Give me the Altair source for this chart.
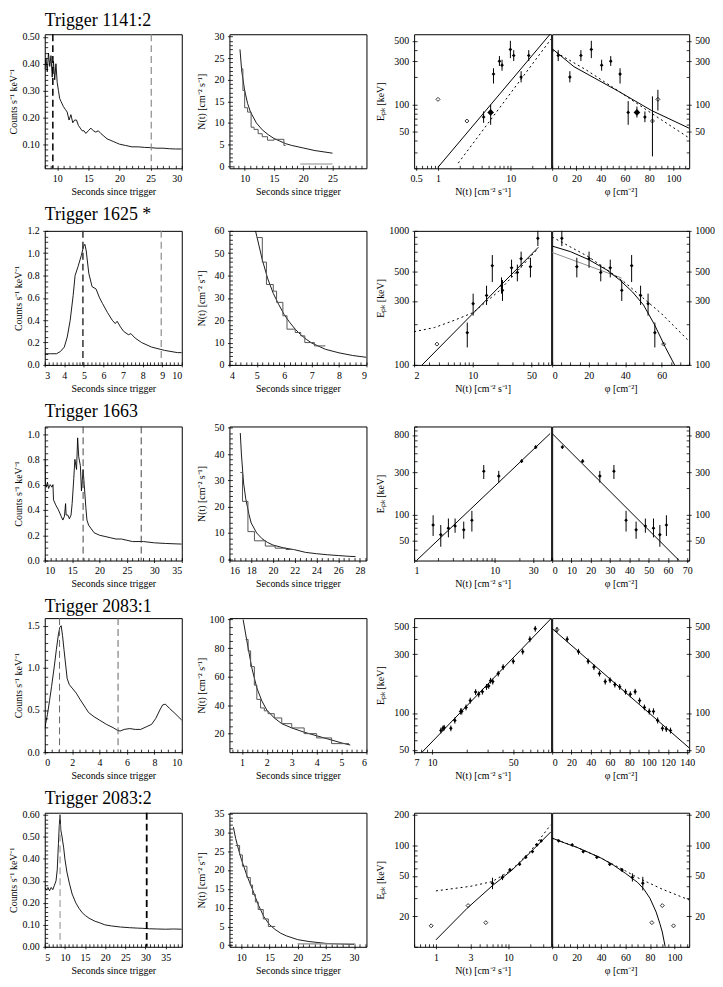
import json, math
import altair as alt
import pandas as pd

FONT = "Liberation Serif"
W, H = 138, 135
GRAY = "#8c8c8c"

# ================= Row 1 : Trigger 1141:2 =================
R1_TITLE = "Trigger 1141:2"
R1_LC_T = [8.0, 8.2, 8.4, 8.6, 8.8, 9.0, 9.2, 9.4, 9.6, 9.8, 10.0, 10.2, 10.4, 10.6, 10.8, 11.0, 11.3, 11.6, 11.9, 12.2,
           12.5, 12.8, 13.1, 13.4, 13.7, 14.0, 14.3, 14.6, 15.0, 15.4, 15.8, 16.2, 16.6, 17.0, 17.5, 18.0, 18.5, 19.0,
           19.5, 20.0, 21.0, 22.0, 23.0, 24.0, 25.0, 26.0, 27.0, 28.0, 29.0, 30.0]
R1_LC_C = [0.38, 0.42, 0.37, 0.44, 0.39, 0.43, 0.35, 0.41, 0.34, 0.40, 0.33, 0.30, 0.27, 0.26, 0.25, 0.24, 0.23, 0.22,
           0.19, 0.21, 0.18, 0.19, 0.19, 0.17, 0.16, 0.15, 0.15, 0.14, 0.15, 0.16, 0.15, 0.145, 0.15, 0.14, 0.13, 0.12,
           0.115, 0.11, 0.105, 0.10, 0.095, 0.09, 0.09, 0.088, 0.087, 0.085, 0.085, 0.083, 0.082, 0.082]
R1_MK_T = [9.3, 25.1]
R1_MK_COL = ["black", GRAY]
R1_MK_W = [1.5, 1.2]
R1_NT_FIT_T = [9.2, 9.5, 10, 10.5, 11, 12, 13, 14, 15, 16, 17, 18, 20, 22, 25]
R1_NT_FIT_N = [27, 22, 17.5, 14.5, 12.5, 10, 8.4, 7.3, 6.4, 5.8, 5.2, 4.8, 4.2, 3.6, 3.0]
R1_NT_EDGE = [9.4, 9.7, 10.0, 10.5, 11.1, 11.6, 12.3, 13.0, 13.9, 15.0, 16.7, 17.0]
R1_NT_VAL = [22.5, 17.5, 13.5, 12.5, 9.0, 8.5, 7.5, 6.8, 6.0, 6.2, 4.8]
R1_NT_BASE = [19.5, 25.0, 0.5]
R1_EN_N = [1.0, 2.5, 4.24, 5.3, 5.8, 7.0, 7.6, 9.9, 11.0, 13.9, 17.7]
R1_EN_E = [114, 66, 73, 82, 216, 299, 270, 402, 345, 200, 345]
R1_EN_LO = [114, 66, 63, 60, 170, 265, 235, 323, 300, 175, 300]
R1_EN_HI = [114, 66, 84, 100, 250, 340, 310, 500, 395, 232, 395]
R1_EN_KIND = ["o", "o", "f", "b", "f", "f", "f", "f", "f", "f", "f"]
R1_EP_PHI = [5, 14.6, 23.7, 32.3, 40.8, 48.3, 56, 62.7, 69.9, 76.5, 82.7, 87.2]
R1_EP_E = [345, 200, 345, 402, 270, 299, 216, 82, 82, 73, 66, 114]
R1_EP_LO = [300, 175, 300, 323, 235, 265, 170, 60, 72, 64, 27, 86]
R1_EP_HI = [395, 232, 395, 500, 310, 340, 250, 109, 95, 84, 123, 145]
R1_EP_KIND = ["f", "f", "f", "f", "f", "f", "f", "f", "b", "f", "o", "o"]
R1_FN_N = [1.0, 36]
R1_FN_E = [20.5, 610]
R1_DN_N = [1.9, 36]
R1_DN_E = [22.8, 524]
R1_FP_PHI = [0, 18, 35, 55, 82, 113]
R1_FP_E = [410, 260, 195, 139, 86, 55]
R1_DP_PHI = [0, 28, 55, 82, 113]
R1_DP_E = [395, 240, 140, 80, 43]

# ================= Row 2 : Trigger 1625 * =================
R2_TITLE = "Trigger 1625 *"
R2_LC_T = [3.0, 3.3, 3.6, 3.8, 4.0, 4.15, 4.3, 4.45, 4.55, 4.7, 4.87, 4.98, 5.05, 5.12, 5.25, 5.42, 5.62, 5.8, 5.95,
           6.2, 6.45, 6.6, 6.7, 6.87, 7.03, 7.28, 7.4, 7.62, 7.95, 8.45, 9.12, 9.78, 10.0]
R2_LC_C = [0.10, 0.10, 0.10, 0.12, 0.16, 0.25, 0.40, 0.62, 0.80, 0.88, 0.98, 1.06, 1.08, 1.02, 0.82, 0.70, 0.68, 0.60,
           0.55, 0.47, 0.40, 0.37, 0.39, 0.34, 0.30, 0.27, 0.28, 0.24, 0.20, 0.16, 0.13, 0.11, 0.11]
R2_MK_T = [4.95, 8.95]
R2_MK_COL = ["#333333", GRAY]
R2_MK_W = [1.5, 1.2]
R2_NT_FIT_T = [4.95, 5.0, 5.2, 5.4, 5.6, 5.8, 6.0, 6.2, 6.4, 6.6, 6.8, 7.0, 7.5, 8.0, 8.5, 9.0]
R2_NT_FIT_N = [60, 57.5, 47, 38.5, 32, 27, 22.5, 19, 16, 13.5, 11.5, 9.8, 7, 5.4, 4.2, 3.4]
R2_NT_EDGE = [5.0, 5.2, 5.35, 5.6, 5.72, 5.95, 6.1, 6.4, 6.6, 6.75, 7.1, 7.5]
R2_NT_VAL = [57, 46, 36, 33, 28, 22, 16, 14.5, 13, 10, 8.5]
R2_NT_BASE = []
R2_EN_N = [3.74, 8.6, 10.1, 14.6, 17.1, 22.6, 22.0, 29, 34, 37.7, 48.7, 59.7]
R2_EN_E = [143, 174, 286, 330, 550, 360, 390, 530, 490, 620, 540, 880]
R2_EN_LO = [143, 135, 233, 280, 415, 300, 340, 450, 420, 530, 450, 770]
R2_EN_HI = [143, 207, 340, 390, 660, 430, 450, 610, 560, 700, 630, 1000]
R2_EN_KIND = ["o", "f", "f", "f", "f", "f", "f", "f", "f", "f", "f", "f"]
R2_EP_PHI = [5.3, 13.5, 20.2, 26.6, 31.8, 38.1, 43.5, 48.4, 52.5, 56.2, 61]
R2_EP_E = [880, 540, 620, 490, 530, 360, 550, 330, 286, 174, 143]
R2_EP_LO = [770, 450, 530, 420, 450, 300, 415, 280, 233, 135, 143]
R2_EP_HI = [1000, 630, 700, 560, 610, 430, 660, 390, 340, 207, 143]
R2_EP_KIND = ["f", "f", "f", "f", "f", "f", "f", "f", "f", "f", "o"]
R2_FN_N = [2.49, 60.6]
R2_FN_E = [100, 755]
R2_DN_N = [2, 3.5, 6, 10, 20, 40, 60]
R2_DN_E = [177, 190, 215, 245, 350, 560, 740]
R2_FP_PHI = [0, 10, 20, 30, 37, 44, 50, 56, 62, 67]
R2_FP_E = [770, 700, 610, 510, 430, 350, 280, 200, 135, 100]
R2_GP_PHI = [0, 38]
R2_GP_E = [690, 445]
R2_DP_PHI = [0, 20, 40, 60, 75]
R2_DP_E = [900, 640, 410, 240, 150]

# ================= Row 3 : Trigger 1663 =================
R3_TITLE = "Trigger 1663"
R3_LC_T = [10.0, 10.1, 10.3, 10.5, 10.7, 11.0, 11.3, 11.5, 11.6, 12.0, 12.5, 13.0, 13.3, 13.6, 13.8, 13.9, 14.2, 14.5,
           14.8, 15.0, 15.3, 15.5, 15.8, 16.0, 16.2, 16.5, 16.7, 17.0, 17.2, 17.5, 17.7, 18.0, 18.5, 19.0, 20.0, 21.0,
           22.0, 23.0, 24.0, 25.0, 26.0, 28.0, 30.0, 32.0, 35.0]
R3_LC_C = [0.80, 0.62, 0.58, 0.62, 0.57, 0.60, 0.58, 0.60, 0.48, 0.44, 0.40, 0.35, 0.32, 0.35, 0.45, 0.36, 0.36, 0.33,
           0.36, 0.45, 0.65, 0.80, 0.72, 0.97, 0.82, 0.75, 0.55, 0.72, 0.60, 0.42, 0.32, 0.28, 0.25, 0.22, 0.20, 0.19,
           0.18, 0.17, 0.17, 0.16, 0.15, 0.15, 0.14, 0.135, 0.13]
R3_MK_T = [17.0, 27.6]
R3_MK_COL = ["#444444", "#444444"]
R3_MK_W = [1.0, 1.0]
R3_NT_FIT_T = [17.0, 17.1, 17.3, 17.5, 17.8, 18, 18.5, 19, 19.5, 20, 21, 22, 23, 24, 25, 26, 27, 27.6]
R3_NT_FIT_N = [48, 40, 29, 23, 17, 13.8, 10, 7.8, 6.4, 5.4, 4.3, 3.6, 2.6, 2.1, 1.7, 1.4, 1.1, 1.0]
R3_NT_EDGE = [17.0, 17.2, 17.7, 18.3, 19.3, 20.2, 21.2, 22.0]
R3_NT_VAL = [33, 22, 10.5, 7, 5, 4.2, 3.7]
R3_NT_BASE = []
R3_EN_N = [1.72, 2.14, 2.66, 3.22, 4.12, 5.2, 7.3, 11.2, 21.5, 32.2]
R3_EN_E = [76, 59, 70, 74, 67, 86, 310, 273, 403, 583]
R3_EN_LO = [57, 43, 55, 62, 53, 64, 253, 230, 385, 555]
R3_EN_HI = [98, 76, 90, 90, 83, 110, 365, 313, 425, 610]
R3_EN_KIND = ["f"] * 10
R3_EP_PHI = [5.3, 15.8, 24.7, 32, 38.3, 43.5, 48.3, 52.5, 55.8, 59.2]
R3_EP_E = [583, 403, 273, 310, 86, 67, 74, 70, 59, 76]
R3_EP_LO = [555, 385, 230, 253, 64, 53, 62, 55, 43, 57]
R3_EP_HI = [610, 425, 313, 365, 110, 83, 90, 90, 76, 98]
R3_EP_KIND = ["f"] * 10
R3_FN_N = [1.07, 48.6]
R3_FN_E = [30, 832]
R3_FP_PHI = [0, 65.8]
R3_FP_E = [832, 30]

# ================= Row 4 : Trigger 2083:1 =================
R4_TITLE = "Trigger 2083:1"
R4_LC_T = [0, 0.2, 0.35, 0.5, 0.7, 0.85, 1.0, 1.1, 1.2, 1.3, 1.41, 1.55, 1.64, 1.8, 2.0, 2.3, 2.6, 3.0, 3.2, 3.6, 4.0,
           4.5, 5.0, 5.3, 5.5, 5.8, 6.2, 6.6, 7.0, 7.4, 7.8, 8.1, 8.4, 8.6, 8.8, 9.1, 9.5, 10.0]
R4_LC_C = [0.28, 0.45, 0.61, 0.78, 1.02, 1.22, 1.40, 1.48, 1.50, 1.38, 1.21, 1.00, 0.87, 0.80, 0.76, 0.70, 0.62, 0.52,
           0.47, 0.42, 0.38, 0.33, 0.29, 0.26, 0.25, 0.27, 0.28, 0.27, 0.27, 0.30, 0.33, 0.40, 0.50, 0.56, 0.57, 0.52,
           0.46, 0.38]
R4_MK_T = [1.08, 5.35]
R4_MK_COL = ["#666666", "#666666"]
R4_MK_W = [1.0, 1.0]
R4_NT_FIT_T = [1.05, 1.2, 1.4, 1.6, 1.8, 2.0, 2.3, 2.6, 3.0, 3.5, 4.0, 4.5, 5.0, 5.35]
R4_NT_FIT_N = [100, 85, 66, 52, 43, 36.5, 31, 27, 24, 21, 18.5, 16, 13.5, 12]
R4_NT_EDGE = [1.15, 1.25, 1.35, 1.5, 1.6, 1.75, 1.9, 2.05, 2.3, 2.6, 3.0, 3.5, 4.0, 4.6, 5.3]
R4_NT_VAL = [86, 78, 67, 54, 44, 38, 36, 34, 31, 27, 24, 20, 17, 13]
R4_NT_BASE = []
R4_EN_N = [11.9, 12.4, 12.7, 14.5, 15.7, 17.6, 18.0, 19.6, 21.3, 23.7, 25.2, 27.1, 29.4, 30.7, 31.9, 33.3, 37.1, 40.9,
           50, 60.3, 69.5, 77.3]
R4_EN_E = [72, 75, 76, 75, 87, 103, 103, 111, 126, 148, 142, 149, 163, 166, 183, 180, 209, 236, 263, 315, 398, 484]
R4_EN_LO = [68, 71, 72, 71, 82, 97, 97, 105, 119, 140, 134, 141, 154, 157, 173, 170, 198, 223, 249, 298, 376, 458]
R4_EN_HI = [76, 79, 80, 79, 92, 109, 109, 117, 133, 156, 150, 157, 172, 175, 193, 190, 220, 249, 277, 332, 420, 510]
R4_EN_KIND = ["f"] * 22
R4_EP_PHI = [5, 15.6, 27.3, 37.3, 43.3, 49, 55, 60, 65, 70, 76, 81, 86, 90.6, 95.6, 100.6, 105, 109.3, 114.3, 118.3,
             122.6]
R4_EP_E = [475, 398, 315, 263, 236, 209, 180, 185, 170, 163, 149, 142, 149, 126, 111, 103, 103, 87, 75, 74, 72]
R4_EP_LO = [450, 376, 298, 249, 223, 198, 170, 175, 161, 154, 141, 134, 141, 119, 105, 97, 97, 82, 71, 70, 68]
R4_EP_HI = [500, 420, 332, 277, 249, 220, 190, 195, 179, 172, 157, 150, 157, 133, 117, 109, 109, 92, 79, 78, 76]
R4_EP_KIND = ["o"] + ["f"] * 20
R4_FN_N = [8.2, 106]
R4_FN_E = [48, 586]
R4_FP_PHI = [0, 142]
R4_FP_E = [485, 52]

# ================= Row 5 : Trigger 2083:2 =================
R5_TITLE = "Trigger 2083:2"
R5_LC_T = [5, 5.4, 5.8, 6.2, 6.6, 7.0, 7.4, 7.8, 8.1, 8.4, 8.6, 8.8, 9.0, 9.3, 9.7, 10.0, 10.5, 11.1, 11.8, 12.7,
           13.5, 14.3, 15.1, 16.0, 17.5, 18.5, 19.9, 21.5, 23.8, 26, 28, 29.3, 31, 33, 35, 37, 39]
R5_LC_C = [0.27, 0.26, 0.27, 0.255, 0.27, 0.26, 0.28, 0.30, 0.35, 0.47, 0.55, 0.60, 0.53, 0.50, 0.45, 0.40, 0.34,
           0.29, 0.24, 0.20, 0.175, 0.155, 0.142, 0.13, 0.116, 0.11, 0.10, 0.095, 0.09, 0.087, 0.085, 0.084, 0.082,
           0.081, 0.08, 0.081, 0.08]
R5_MK_T = [8.8, 30.3]
R5_MK_COL = [GRAY, "black"]
R5_MK_W = [1.0, 1.8]
R5_NT_FIT_T = [8.6, 9, 9.5, 10, 11, 12, 13, 14, 15, 16, 17, 18, 20, 22, 25, 30]
R5_NT_FIT_N = [31.4, 28.4, 25.5, 22.9, 18.5, 14.8, 10.8, 7.6, 5.5, 4.2, 3.2, 2.5, 1.5, 1.0, 0.5, 0.2]
R5_NT_EDGE = [9.0, 9.7, 10.2, 11.0, 11.6, 12.0, 12.5, 13.0, 13.9, 14.8, 16.0]
R5_NT_VAL = [26.5, 24, 21, 18, 16, 13.5, 11.5, 9.5, 7, 5]
R5_NT_BASE = [20.0, 30.2, 0.4]
R5_EN_N = [0.86, 2.78, 4.88, 6.04, 8.3, 10.5, 14.3, 17.4, 21.5, 24.8, 28.4]
R5_EN_E = [16.1, 25.5, 17.3, 42.4, 48.5, 57.3, 65.3, 76.5, 87, 101, 111]
R5_EN_LO = [16.1, 25.5, 17.3, 37, 45.5, 55, 63, 74, 84, 98, 108]
R5_EN_HI = [16.1, 25.5, 17.3, 48, 51.5, 59.5, 67.5, 79, 90, 104, 114]
R5_EN_KIND = ["o", "o", "o", "f", "f", "f", "f", "f", "f", "f", "f"]
R5_EP_PHI = [5.3, 16.4, 25.4, 36.5, 47.1, 57.1, 65.6, 74.1, 81.5, 90, 99.2]
R5_EP_E = [111, 101, 87, 76.5, 65.3, 57.3, 48.5, 42.4, 17.3, 25.5, 16.1]
R5_EP_LO = [108, 98, 84, 74, 63, 55, 44, 36, 17.3, 25.5, 16.1]
R5_EP_HI = [114, 104, 90, 79, 67.5, 59.5, 53, 49, 17.3, 25.5, 16.1]
R5_EP_KIND = ["f"] * 8 + ["o", "o", "o"]
R5_FN_N = [1.0, 2.7, 6, 11.2, 20, 38.6]
R5_FN_E = [11.7, 24, 40, 57, 85, 136]
R5_DN_N = [1, 3, 6, 11, 20, 38.6]
R5_DN_E = [35.6, 39.5, 44, 57, 87, 160]
R5_FP_PHI = [0, 10, 20, 30, 40, 50, 60, 70, 75, 80, 85, 88, 90, 92.4]
R5_FP_E = [118, 106, 96, 85, 75, 64, 53, 43, 37, 30, 22, 17, 14, 10]
R5_DP_PHI = [0, 20, 40, 60, 70, 90, 112]
R5_DP_E = [118, 96, 75, 56, 48, 37, 29]

# ================= axis ranges and tick labels =================
AX = {
    1: dict(lc_x=[8, 30], lc_xl=[10, 15, 20, 25, 30], lc_xs=1, lc_y=[0.01, 0.51], lc_yl=[0.1, 0.2, 0.3, 0.4, 0.5],
            lc_ys=0.02, lc_fmt=".2f",
            nt_x=[7.4, 30.8], nt_xl=[10, 15, 20, 25], nt_xs=1, nt_y=[-0.5, 30.5], nt_yl=[0, 5, 10, 15, 20, 25, 30],
            nt_ys=1,
            en_x=[0.47, 36], en_xl=[0.5, 1, 10], e_y=[20, 590], e_yl=[50, 100, 300, 500],
            ep_x=[0, 113], ep_xl=[0, 20, 40, 60, 80, 100], ep_xs=5),
    2: dict(lc_x=[3, 10], lc_xl=[3, 4, 5, 6, 7, 8, 9, 10], lc_xs=0.2, lc_y=[0, 1.2],
            lc_yl=[0, 0.2, 0.4, 0.6, 0.8, 1.0, 1.2], lc_ys=0.05, lc_fmt=".1f",
            nt_x=[4, 9], nt_xl=[4, 5, 6, 7, 8, 9], nt_xs=0.2, nt_y=[0, 60], nt_yl=[0, 10, 20, 30, 40, 50, 60],
            nt_ys=2,
            en_x=[2, 86], en_xl=[2, 10, 50], e_y=[100, 1000], e_yl=[100, 300, 500, 1000],
            ep_x=[0, 75], ep_xl=[0, 20, 40, 60], ep_xs=5),
    3: dict(lc_x=[10, 35], lc_xl=[10, 15, 20, 25, 30, 35], lc_xs=1, lc_y=[0, 1.06],
            lc_yl=[0, 0.2, 0.4, 0.6, 0.8, 1.0], lc_ys=0.05, lc_fmt=".1f",
            nt_x=[16, 28.6], nt_xl=[16, 18, 20, 22, 24, 26, 28], nt_xs=0.5, nt_y=[-0.5, 50.5],
            nt_yl=[0, 10, 20, 30, 40, 50], nt_ys=2,
            en_x=[1, 50], en_xl=[1, 10, 30], e_y=[30, 1000], e_yl=[50, 100, 300, 800],
            ep_x=[0, 71], ep_xl=[0, 10, 20, 30, 40, 50, 60, 70], ep_xs=5),
    4: dict(lc_x=[0, 10], lc_xl=[0, 2, 4, 6, 8, 10], lc_xs=0.5, lc_y=[0, 1.59], lc_yl=[0, 0.5, 1.0, 1.5],
            lc_ys=0.1, lc_fmt=".1f",
            nt_x=[0.5, 6], nt_xl=[1, 2, 3, 4, 5, 6], nt_xs=0.2, nt_y=[7, 101], nt_yl=[20, 40, 60, 80, 100], nt_ys=5,
            en_x=[7, 106], en_xl=[7, 10, 50], e_y=[48, 590], e_yl=[50, 100, 300, 500],
            ep_x=[0, 142], ep_xl=[0, 20, 40, 60, 80, 100, 120, 140], ep_xs=10),
    5: dict(lc_x=[5, 39], lc_xl=[5, 10, 15, 20, 25, 30, 35], lc_xs=1, lc_y=[0, 0.61],
            lc_yl=[0, 0.1, 0.2, 0.3, 0.4, 0.5, 0.6], lc_ys=0.02, lc_fmt=".2f",
            nt_x=[7.9, 32.2], nt_xl=[10, 15, 20, 25, 30], nt_xs=1, nt_y=[-0.4, 35.2],
            nt_yl=[0, 5, 10, 15, 20, 25, 30, 35], nt_ys=1,
            en_x=[0.5, 39], en_xl=[1, 3, 10], e_y=[10, 210], e_yl=[20, 50, 100, 200],
            ep_x=[0, 112], ep_xl=[0, 20, 40, 60, 80, 100], ep_xs=5),
}

T_SEC = "Seconds since trigger"
T_CNT = "Counts s\u207b\u00b9 keV\u207b\u00b9"
T_NT = "N(t) [cm\u207b\u00b2 s\u207b\u00b9]"
T_EPK = "E\u209a\u2096 [keV]"
T_PHI = "\u03c6 [cm\u207b\u00b2]"

TICK_IN = 3   # ticks reach this far inside the frame
COL_SP = -3   # column spacing (pulls the E_pk pair together)


def lin_ticks(dom, step):
    k0 = math.ceil(dom[0] / step - 1e-9)
    k1 = math.floor(dom[1] / step + 1e-9)
    return [round(k * step, 6) for k in range(k0, k1 + 1)]


def log_ticks(dom):
    out = []
    for e in range(-2, 5):
        for m in range(1, 10):
            v = round(m * 10 ** e, 6)
            if dom[0] - 1e-9 <= v <= dom[1] + 1e-9:
                out.append(v)
    return out


def mk_axis(title, ticks, labels, fmt, **kw):
    lst = json.dumps([float(v) for v in labels])
    test = f"indexof({lst}, datum.value) >= 0"
    d = dict(title=title, values=ticks, labelExpr=f"{test} ? datum.label : ''", format=fmt,
             labelOverlap=False, domain=False, offset=-TICK_IN, labelPadding=3.5,
             tickSize={"condition": {"test": test, "value": 5}, "value": 3})
    d.update(kw)
    return alt.Axis(**d)


def lc_panel(title, t, c, mk_t, mk_col, mk_w, a):
    xs = alt.X("t:Q", scale=alt.Scale(domain=a["lc_x"], nice=False, zero=False),
               axis=mk_axis(T_SEC, lin_ticks(a["lc_x"], a["lc_xs"]), a["lc_xl"], "~f"))
    ys = alt.Y("c:Q", scale=alt.Scale(domain=a["lc_y"], nice=False, zero=False),
               axis=mk_axis(T_CNT, lin_ticks(a["lc_y"], a["lc_ys"]), a["lc_yl"], a["lc_fmt"]))
    line = alt.Chart(pd.DataFrame({"t": t, "c": c})).mark_line(
        color="black", strokeWidth=0.9, clip=True).encode(x=xs, y=ys)
    rules = alt.Chart(pd.DataFrame({"t": mk_t, "col": mk_col, "w": mk_w})).mark_rule(
        strokeDash=[7, 4]).encode(x=xs, color=alt.Color("col:N", scale=None),
                                  strokeWidth=alt.StrokeWidth("w:Q", scale=None))
    return alt.layer(line, rules).properties(
        width=W, height=H,
        title=alt.TitleParams(title, anchor="start", frame="group", font=FONT, fontSize=18,
                              fontWeight="normal", color="black", offset=2))


def nt_panel(ft, fn, edges, vals, base, a):
    xs = alt.X("t:Q", scale=alt.Scale(domain=a["nt_x"], nice=False, zero=False),
               axis=mk_axis(T_SEC, lin_ticks(a["nt_x"], a["nt_xs"]), a["nt_xl"], "~f"))
    ys = alt.Y("n:Q", scale=alt.Scale(domain=a["nt_y"], nice=False, zero=False),
               axis=mk_axis(T_NT, lin_ticks(a["nt_y"], a["nt_ys"]), a["nt_yl"], "~f",
                            minExtent=46 + TICK_IN - COL_SP, titleX=-23 - TICK_IN))
    fit = alt.Chart(pd.DataFrame({"t": ft, "n": fn})).mark_line(
        color="black", strokeWidth=0.9, clip=True).encode(x=xs, y=ys)
    step = alt.Chart(pd.DataFrame({"t": edges, "n": vals + [vals[-1]]})).mark_line(
        color="#555555", strokeWidth=1.0, interpolate="step-after", clip=True).encode(x=xs, y=ys)
    layers = [fit, step]
    if base:
        layers.append(alt.Chart(pd.DataFrame({"t": [base[0]], "t2": [base[1]], "n": [base[2]]})).mark_rule(
            color=GRAY, strokeWidth=1.2).encode(x=xs, x2="t2:Q", y=ys))
    return alt.layer(*layers).properties(width=W, height=H)


def point_layers(xs, ys, ylo, x, e, lo, hi, kind):
    df = pd.DataFrame({"x": x, "e": e, "lo": lo, "hi": hi, "kind": kind})
    base = alt.Chart(df)
    err = base.mark_rule(color="black", strokeWidth=1.0).encode(x=xs, y=ylo, y2="hi:Q")
    filled = base.transform_filter("datum.kind != 'o'").mark_point(
        shape="diamond", filled=True, color="black", opacity=1).encode(
        x=xs, y=ys, size=alt.Size("kind:N", scale=alt.Scale(domain=["f", "b"], range=[14, 45]), legend=None))
    opn = base.transform_filter("datum.kind == 'o'").mark_point(
        shape="diamond", filled=False, color="black", size=16, strokeWidth=0.8, opacity=1).encode(x=xs, y=ys)
    return [err, filled, opn]


def line_layer(xs, ys, x, e, style):
    df = pd.DataFrame({"x": x, "e": e})
    if style == "dot":
        m = alt.Chart(df).mark_line(color="black", strokeWidth=1.0, strokeDash=[2, 3], clip=True)
    elif style == "gray":
        m = alt.Chart(df).mark_line(color=GRAY, strokeWidth=1.0, clip=True)
    else:
        m = alt.Chart(df).mark_line(color="black", strokeWidth=1.0, clip=True)
    return m.encode(x=xs, y=ys)


def en_panel(x, e, lo, hi, kind, lines, a):
    xs = alt.X("x:Q", scale=alt.Scale(type="log", domain=a["en_x"], nice=False),
               axis=mk_axis(T_NT, log_ticks(a["en_x"]), a["en_xl"], "~f"))
    yscale = alt.Scale(type="log", domain=a["e_y"], nice=False)
    yax = mk_axis(T_EPK, log_ticks(a["e_y"]), a["e_yl"], "~f", minExtent=46 + TICK_IN - COL_SP,
                  titleX=-29 - TICK_IN)
    ys = alt.Y("e:Q", scale=yscale, axis=yax)
    ylo = alt.Y("lo:Q", scale=yscale, axis=yax)
    layers = [line_layer(xs, ys, lx, le, st) for lx, le, st in lines]
    layers += point_layers(xs, ys, ylo, x, e, lo, hi, kind)
    return alt.layer(*layers).properties(width=W, height=H)


def ep_panel(x, e, lo, hi, kind, lines, a):
    xs = alt.X("x:Q", scale=alt.Scale(domain=a["ep_x"], nice=False, zero=False),
               axis=mk_axis(T_PHI, lin_ticks(a["ep_x"], a["ep_xs"]), a["ep_xl"], "~f", labelFlush=True))
    yscale = alt.Scale(type="log", domain=a["e_y"], nice=False)
    yax = mk_axis(None, log_ticks(a["e_y"]), a["e_yl"], "~f", orient="right")
    ys = alt.Y("e:Q", scale=yscale, axis=yax)
    ylo = alt.Y("lo:Q", scale=yscale, axis=yax)
    layers = [line_layer(xs, ys, lx, le, st) for lx, le, st in lines]
    layers += point_layers(xs, ys, ylo, x, e, lo, hi, kind)
    return alt.layer(*layers).properties(width=W, height=H)


ROWS = [
    dict(title=R1_TITLE, lc=(R1_LC_T, R1_LC_C), mk=(R1_MK_T, R1_MK_COL, R1_MK_W),
         nt=(R1_NT_FIT_T, R1_NT_FIT_N, R1_NT_EDGE, R1_NT_VAL, R1_NT_BASE),
         en=(R1_EN_N, R1_EN_E, R1_EN_LO, R1_EN_HI, R1_EN_KIND),
         en_lines=[(R1_FN_N, R1_FN_E, "solid"), (R1_DN_N, R1_DN_E, "dot")],
         ep=(R1_EP_PHI, R1_EP_E, R1_EP_LO, R1_EP_HI, R1_EP_KIND),
         ep_lines=[(R1_FP_PHI, R1_FP_E, "solid"), (R1_DP_PHI, R1_DP_E, "dot")]),
    dict(title=R2_TITLE, lc=(R2_LC_T, R2_LC_C), mk=(R2_MK_T, R2_MK_COL, R2_MK_W),
         nt=(R2_NT_FIT_T, R2_NT_FIT_N, R2_NT_EDGE, R2_NT_VAL, R2_NT_BASE),
         en=(R2_EN_N, R2_EN_E, R2_EN_LO, R2_EN_HI, R2_EN_KIND),
         en_lines=[(R2_FN_N, R2_FN_E, "solid"), (R2_DN_N, R2_DN_E, "dot")],
         ep=(R2_EP_PHI, R2_EP_E, R2_EP_LO, R2_EP_HI, R2_EP_KIND),
         ep_lines=[(R2_GP_PHI, R2_GP_E, "gray"), (R2_FP_PHI, R2_FP_E, "solid"), (R2_DP_PHI, R2_DP_E, "dot")]),
    dict(title=R3_TITLE, lc=(R3_LC_T, R3_LC_C), mk=(R3_MK_T, R3_MK_COL, R3_MK_W),
         nt=(R3_NT_FIT_T, R3_NT_FIT_N, R3_NT_EDGE, R3_NT_VAL, R3_NT_BASE),
         en=(R3_EN_N, R3_EN_E, R3_EN_LO, R3_EN_HI, R3_EN_KIND),
         en_lines=[(R3_FN_N, R3_FN_E, "solid")],
         ep=(R3_EP_PHI, R3_EP_E, R3_EP_LO, R3_EP_HI, R3_EP_KIND),
         ep_lines=[(R3_FP_PHI, R3_FP_E, "solid")]),
    dict(title=R4_TITLE, lc=(R4_LC_T, R4_LC_C), mk=(R4_MK_T, R4_MK_COL, R4_MK_W),
         nt=(R4_NT_FIT_T, R4_NT_FIT_N, R4_NT_EDGE, R4_NT_VAL, R4_NT_BASE),
         en=(R4_EN_N, R4_EN_E, R4_EN_LO, R4_EN_HI, R4_EN_KIND),
         en_lines=[(R4_FN_N, R4_FN_E, "solid")],
         ep=(R4_EP_PHI, R4_EP_E, R4_EP_LO, R4_EP_HI, R4_EP_KIND),
         ep_lines=[(R4_FP_PHI, R4_FP_E, "solid")]),
    dict(title=R5_TITLE, lc=(R5_LC_T, R5_LC_C), mk=(R5_MK_T, R5_MK_COL, R5_MK_W),
         nt=(R5_NT_FIT_T, R5_NT_FIT_N, R5_NT_EDGE, R5_NT_VAL, R5_NT_BASE),
         en=(R5_EN_N, R5_EN_E, R5_EN_LO, R5_EN_HI, R5_EN_KIND),
         en_lines=[(R5_FN_N, R5_FN_E, "solid"), (R5_DN_N, R5_DN_E, "dot")],
         ep=(R5_EP_PHI, R5_EP_E, R5_EP_LO, R5_EP_HI, R5_EP_KIND),
         ep_lines=[(R5_FP_PHI, R5_FP_E, "solid"), (R5_DP_PHI, R5_DP_E, "dot")]),
]

cells = []
for i, r in enumerate(ROWS, start=1):
    a = AX[i]
    cells.append(lc_panel(r["title"], r["lc"][0], r["lc"][1], *r["mk"], a))
    cells.append(nt_panel(*r["nt"], a))
    cells.append(en_panel(*r["en"], r["en_lines"], a))
    cells.append(ep_panel(*r["ep"], r["ep_lines"], a))

chart = alt.concat(*cells, columns=4, spacing={"row": 8, "column": COL_SP}, bounds="full",
                   align="each").properties(
    padding={"left": 0, "top": 0, "right": 0, "bottom": 0}
).configure_axis(
    labelFont=FONT, labelFontSize=10, titleFont=FONT, titleFontSize=10, titleFontWeight="normal",
    labelColor="black", titleColor="black", tickColor="black", tickWidth=0.8,
    titlePadding=3, grid=False
).configure_view(stroke="black", strokeWidth=1)

chart.save("out.html", embed_options={"renderer": "svg", "actions": False})
